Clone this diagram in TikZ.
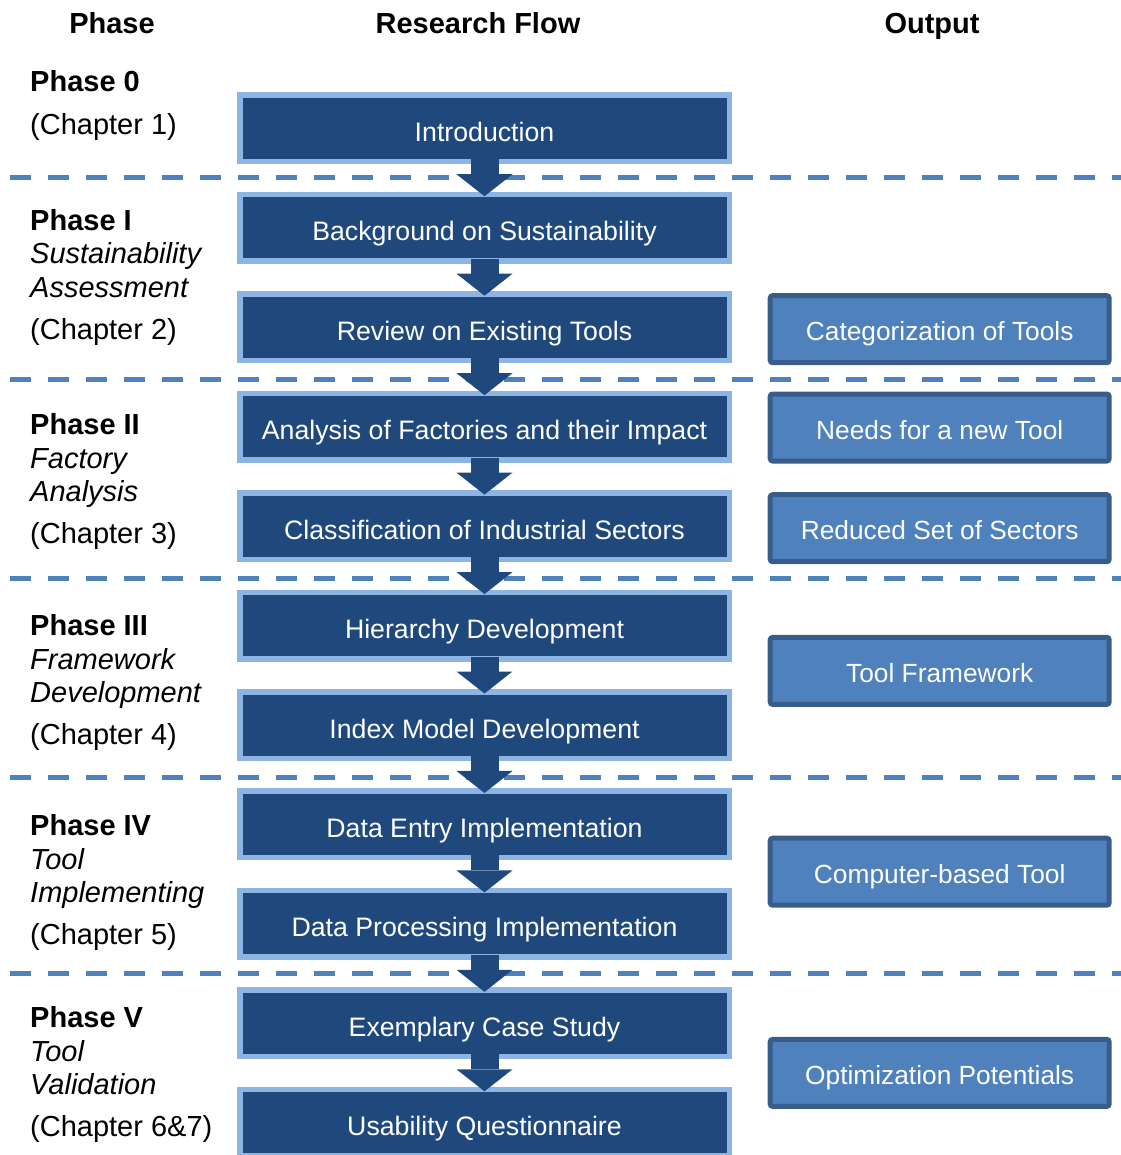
\documentclass[tikz,border=0pt]{standalone}
\usepackage{fontspec}
\setmainfont{Liberation Sans}
\usetikzlibrary{arrows.meta}
\definecolor{flowfill}{HTML}{1F497D}
\definecolor{flowedge}{HTML}{8DB4E2}
\definecolor{outfill}{HTML}{4F81BD}
\definecolor{outedge}{HTML}{385D8A}
\definecolor{sepline}{HTML}{4F81BD}

\begin{document}
\begin{tikzpicture}[x=1pt,y=-1pt,
  flowbox/.style={draw=flowedge, fill=flowfill, line width=5.5pt,
    minimum width=489.5pt, minimum height=66.5pt, inner sep=0pt,
    text=white, font=\fontsize{26.7}{30}\selectfont,
    text height=26pt, text depth=0pt},
  outbox/.style={draw=outedge, fill=outfill, line width=5pt,
    rounded corners=2.5pt, minimum width=339pt, minimum height=67pt,
    inner sep=0pt, text=white, font=\fontsize{26.3}{30}\selectfont,
    text height=23pt, text depth=0pt},
  flowarrow/.style={draw=flowfill, line width=28pt,
    -{Triangle[width=56pt,length=22pt,line width=0pt]}},
  sepdash/.style={draw=sepline, line width=5pt, dash pattern=on 21pt off 17pt},
  colhead/.style={font=\fontsize{29}{33}\bfseries\selectfont, anchor=base},
  phasename/.style={font=\fontsize{29}{33}\bfseries\selectfont, anchor=base west, inner sep=0pt},
  phasetopic/.style={font=\fontsize{29}{33}\itshape\selectfont, anchor=base west, inner sep=0pt},
  chapter/.style={font=\fontsize{29}{33}\selectfont, anchor=base west, inner sep=0pt},
]
\useasboundingbox (0,0) rectangle (1120,1155);

% column headings
\node[colhead] (hphase) at (112,33.4) {Phase};
\node[colhead] (hflow)  at (478,33.4) {Research Flow};
\node[colhead] (hout)   at (932,33.4) {Output};

% phase separators
\foreach \yy in {178,379,578,777,973.5}
  \draw[sepdash] (10,\yy) -- (1122,\yy);

% research flow boxes
\node[flowbox] (b0)  at (484.5,128.3)  {Introduction};
\node[flowbox] (b1)  at (484.5,227.75) {Background on Sustainability};
\node[flowbox] (b2)  at (484.5,327.2)  {Review on Existing Tools};
\node[flowbox] (b3)  at (484.5,426.65) {Analysis of Factories and their Impact};
\node[flowbox] (b4)  at (484.5,526.1)  {Classification of Industrial Sectors};
\node[flowbox] (b5)  at (484.5,625.55) {Hierarchy Development};
\node[flowbox] (b6)  at (484.5,725)    {Index Model Development};
\node[flowbox] (b7)  at (484.5,824.45) {Data Entry Implementation};
\node[flowbox] (b8)  at (484.5,923.9)  {Data Processing Implementation};
\node[flowbox] (b9)  at (484.5,1023.35){Exemplary Case Study};
\node[flowbox] (b10) at (484.5,1122.8) {Usability Questionnaire};

% flow arrows
\foreach \a/\b in {b0/b1,b1/b2,b2/b3,b3/b4,b4/b5,b5/b6,b6/b7,b7/b8,b8/b9,b9/b10}
  \draw[flowarrow] ([yshift=5pt]\a.south) -- ([yshift=-4.5pt]\b.north);

% outputs
\node[outbox] (o1) at (939.7,329.2)  {Categorization of Tools};
\node[outbox] (o2) at (939.7,427.5)  {Needs for a new Tool};
\node[outbox] (o3) at (939.7,528.2)  {Reduced Set of Sectors};
\node[outbox] (o4) at (939.7,670.9)  {Tool Framework};
\node[outbox] (o5) at (939.7,871.7)  {Computer-based Tool};
\node[outbox] (o6) at (939.7,1072.9) {Optimization Potentials};

% phase labels
\node[phasename] (p0)  at (30,91.4)  {Phase 0};
\node[chapter]   (p0c) at (30,134.4) {(Chapter 1)};

\node[phasename]  (p1)  at (30,230.5) {Phase I};
\node[phasetopic] (p1a) at (30,264)   {Sustainability};
\node[phasetopic] (p1b) at (30,297.5) {Assessment};
\node[chapter]    (p1c) at (30,339)   {(Chapter 2)};

\node[phasename]  (p2)  at (30,434.4) {Phase II};
\node[phasetopic] (p2a) at (30,468)   {Factory};
\node[phasetopic] (p2b) at (30,501.4) {Analysis};
\node[chapter]    (p2c) at (30,543)   {(Chapter 3)};

\node[phasename]  (p3)  at (30,635.4) {Phase III};
\node[phasetopic] (p3a) at (30,669)   {Framework};
\node[phasetopic] (p3b) at (30,702.4) {Development};
\node[chapter]    (p3c) at (30,744)   {(Chapter 4)};

\node[phasename]  (p4)  at (30,835.4) {Phase IV};
\node[phasetopic] (p4a) at (30,869)   {Tool};
\node[phasetopic] (p4b) at (30,902.4) {Implementing};
\node[chapter]    (p4c) at (30,944)   {(Chapter 5)};

\node[phasename]  (p5)  at (30,1027.4) {Phase V};
\node[phasetopic] (p5a) at (30,1061)   {Tool};
\node[phasetopic] (p5b) at (30,1094.4) {Validation};
\node[chapter]    (p5c) at (30,1136)   {(Chapter 6\&7)};
\end{tikzpicture}
\end{document}
